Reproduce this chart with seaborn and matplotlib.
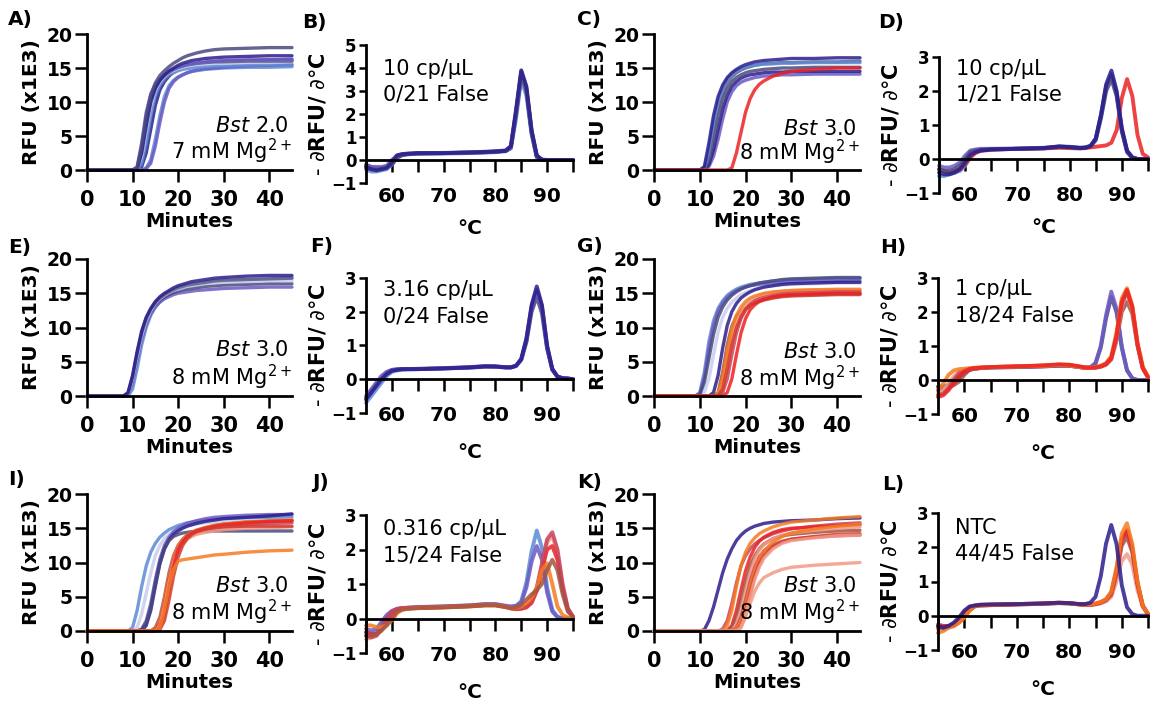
import matplotlib
matplotlib.use("Agg")
import matplotlib.pyplot as plt
import seaborn as sns

# ------------------------------------------------------------------ data
MINUTES = [0, 8, 9, 10, 11, 12, 13, 14, 15, 16, 17, 18, 19, 20, 21, 22, 23, 24, 26, 28, 30, 35, 40, 45]
TEMPS = [55, 56, 57, 58, 59, 60, 61, 62, 63, 65, 70, 75, 78, 80, 82, 83, 84, 85, 86, 87, 88, 89, 90, 91, 92, 93, 94, 95]

RFU_YTICKS = [0, 5, 10, 15, 20]
RFU_XTICKS = [0, 10, 20, 30, 40]
MELT_XTICKS = [60, 70, 80, 90]
MELT_XMINOR = [55, 65, 75, 85, 95]

# Panel A  (Bst 2.0, 7 mM Mg2+)
A_1 = [0, 0, 0, 0, 0.3, 3.5, 8, 11, 12.8, 13.9, 14.6, 15.2, 15.7, 16.1, 16.5, 16.8, 17.0, 17.2, 17.5, 17.7, 17.8, 17.9, 18.0, 18.0]
A_2 = [0, 0, 0, 0, 0.1, 2.5, 6.5, 10, 12, 13.2, 14, 14.6, 15, 15.4, 15.7, 15.9, 16.1, 16.2, 16.4, 16.5, 16.6, 16.7, 16.8, 16.8]
A_3 = [0, 0, 0, 0, 0.5, 4, 8.5, 11.2, 12.6, 13.4, 14, 14.4, 14.8, 15.1, 15.3, 15.5, 15.6, 15.7, 15.9, 16.0, 16.1, 16.2, 16.2, 16.3]
A_4 = [0, 0, 0, 0, 0.2, 3, 7.5, 10.5, 12.2, 13.2, 13.9, 14.4, 14.8, 15.1, 15.3, 15.5, 15.6, 15.7, 15.8, 15.9, 15.9, 16.0, 16.0, 16.0]
A_5 = [0, 0, 0, 0, 0, 0.5, 2.5, 6, 9.5, 11.8, 13, 13.8, 14.4, 14.8, 15.1, 15.3, 15.5, 15.6, 15.8, 15.9, 16, 16.1, 16.2, 16.2]
A_6 = [0, 0, 0, 0, 0, 0, 0.3, 1.5, 4.5, 8, 10.8, 12.4, 13.2, 13.7, 14.0, 14.3, 14.5, 14.6, 14.8, 14.9, 15.0, 15.1, 15.1, 15.2]
A_7 = [0, 0, 0, 0, 0, 0, 0.2, 1, 3.5, 7, 10, 12, 13, 13.6, 14, 14.3, 14.5, 14.7, 14.9, 15, 15.1, 15.3, 15.4, 15.5]
A_8 = [0, 0, 0, 0, 0.1, 2, 6, 9.5, 11.8, 13, 13.8, 14.3, 14.6, 14.9, 15.1, 15.3, 15.4, 15.5, 15.6, 15.7, 15.7, 15.8, 15.8, 15.9]
A_9 = [0, 0, 0, 0, 0, 1, 4, 8, 11, 12.5, 13.4, 14, 14.3, 14.6, 14.8, 14.9, 15, 15.1, 15.2, 15.3, 15.3, 15.4, 15.5, 15.5]

# Panel B  (melt, 10 cp/uL, Bst 2.0)
B_1 = [-0.3, -0.4, -0.45, -0.4, -0.35, -0.1, 0.2, 0.25, 0.27, 0.3, 0.3, 0.33, 0.35, 0.37, 0.4, 0.6, 2.2, 3.9, 3.2, 1.3, 0.2, 0.02, 0, 0, 0, 0, 0, 0]
B_2 = [-0.2, -0.3, -0.35, -0.35, -0.3, -0.2, 0.1, 0.22, 0.25, 0.28, 0.3, 0.32, 0.34, 0.36, 0.4, 0.55, 2.0, 3.7, 3.0, 1.2, 0.15, 0, 0, 0, 0, 0, 0, 0]
B_3 = [-0.4, -0.5, -0.5, -0.45, -0.4, -0.2, 0.1, 0.2, 0.25, 0.27, 0.28, 0.3, 0.32, 0.34, 0.38, 0.5, 1.8, 3.5, 2.8, 1.1, 0.1, 0, 0, 0, 0, 0, 0, 0]
B_4 = [-0.25, -0.3, -0.3, -0.3, -0.25, 0, 0.2, 0.26, 0.28, 0.3, 0.31, 0.33, 0.36, 0.38, 0.42, 0.6, 2.1, 3.85, 3.1, 1.25, 0.18, 0.01, 0, 0, 0, 0, 0, 0]
B_5 = [-0.35, -0.4, -0.4, -0.38, -0.3, -0.15, 0.15, 0.24, 0.26, 0.29, 0.3, 0.32, 0.34, 0.36, 0.4, 0.58, 2.05, 3.8, 3.05, 1.2, 0.15, 0, 0, 0, 0, 0, 0, 0]

# Panel C  (Bst 3.0, 10 cp/uL)
C_1 = [0, 0, 0, 0, 0.5, 4, 8, 10.8, 12.5, 13.6, 14.3, 14.8, 15.2, 15.5, 15.7, 15.9, 16.0, 16.1, 16.2, 16.3, 16.4, 16.4, 16.5, 16.5]
C_2 = [0, 0, 0, 0, 0.3, 3, 7, 10, 12, 13.3, 14.1, 14.6, 14.9, 15.1, 15.3, 15.4, 15.5, 15.6, 15.6, 15.7, 15.7, 15.8, 15.8, 15.8]
C_3 = [0, 0, 0, 0, 0.1, 1.5, 4.5, 8, 10.5, 12, 13, 13.6, 14, 14.3, 14.5, 14.6, 14.7, 14.8, 14.9, 15, 15, 15.1, 15.1, 15.1]
C_4 = [0, 0, 0, 0, 0, 0.8, 3, 6, 9, 11, 12.3, 13, 13.5, 13.8, 14, 14.1, 14.2, 14.3, 14.4, 14.4, 14.5, 14.5, 14.5, 14.5]
C_5 = [0, 0, 0, 0, 0, 0.5, 2, 4.5, 7.5, 10, 11.5, 12.4, 12.9, 13.2, 13.4, 13.6, 13.7, 13.8, 13.9, 14, 14, 14.1, 14.1, 14.1]
C_6 = [0, 0, 0, 0, 0.2, 2, 5.5, 9, 11.3, 12.8, 13.7, 14.3, 14.7, 15, 15.2, 15.4, 15.5, 15.6, 15.7, 15.8, 15.8, 15.9, 15.9, 16]
C_red = [0, 0, 0, 0, 0, 0, 0, 0, 0, 0, 0.3, 2.5, 5.5, 8.5, 10.5, 11.8, 12.6, 13.1, 13.8, 14.2, 14.5, 14.8, 15, 15]

# Panel D  (melt, 10 cp/uL, Bst 3.0)
D_1 = [-0.4, -0.45, -0.45, -0.4, -0.3, -0.1, 0.12, 0.2, 0.25, 0.28, 0.3, 0.32, 0.37, 0.35, 0.32, 0.33, 0.38, 0.6, 1.3, 2.2, 2.6, 2.0, 0.9, 0.25, 0.05, 0, 0, 0]
D_2 = [-0.3, -0.35, -0.35, -0.3, -0.2, 0, 0.2, 0.25, 0.27, 0.29, 0.3, 0.32, 0.36, 0.35, 0.33, 0.34, 0.38, 0.55, 1.2, 2.0, 2.35, 1.85, 0.8, 0.2, 0.03, 0, 0, 0]
D_3 = [-0.5, -0.5, -0.45, -0.4, -0.35, -0.2, 0.05, 0.2, 0.25, 0.28, 0.3, 0.31, 0.35, 0.34, 0.32, 0.33, 0.37, 0.58, 1.25, 2.1, 2.5, 1.95, 0.85, 0.22, 0.04, 0, 0, 0]
D_4 = [-0.2, -0.25, -0.25, -0.2, -0.1, 0.1, 0.25, 0.28, 0.3, 0.3, 0.31, 0.33, 0.37, 0.36, 0.33, 0.34, 0.39, 0.6, 1.3, 2.15, 2.45, 1.9, 0.85, 0.22, 0.04, 0, 0, 0]
D_red = [-0.3, -0.35, -0.4, -0.35, -0.3, -0.15, 0.05, 0.18, 0.24, 0.27, 0.3, 0.31, 0.33, 0.32, 0.31, 0.32, 0.34, 0.36, 0.38, 0.4, 0.48, 0.85, 1.8, 2.35, 1.85, 0.7, 0.15, 0.05]

# Panel E  (Bst 3.0, 3.16 cp/uL)
E_1 = [0, 0, 0.5, 3, 6.5, 9.5, 11.5, 12.8, 13.8, 14.5, 15, 15.4, 15.8, 16.1, 16.3, 16.5, 16.7, 16.8, 17, 17.2, 17.3, 17.5, 17.6, 17.6]
E_2 = [0, 0, 0, 1, 4, 7.5, 10, 11.8, 13, 13.8, 14.4, 14.9, 15.3, 15.6, 15.8, 16, 16.2, 16.3, 16.5, 16.7, 16.8, 17, 17.1, 17.2]
E_3 = [0, 0, 0.3, 2.5, 6, 9, 11.2, 12.5, 13.4, 14, 14.5, 14.8, 15.1, 15.3, 15.5, 15.6, 15.7, 15.8, 16, 16.1, 16.2, 16.3, 16.4, 16.4]
E_4 = [0, 0, 0.2, 2, 5.2, 8.3, 10.5, 12, 13, 13.7, 14.2, 14.5, 14.8, 15, 15.1, 15.2, 15.3, 15.4, 15.5, 15.6, 15.7, 15.8, 15.9, 15.9]
E_5 = [0, 0, 0.4, 2.8, 6.2, 9.2, 11.3, 12.7, 13.6, 14.3, 14.8, 15.2, 15.5, 15.8, 16, 16.2, 16.3, 16.4, 16.6, 16.8, 16.9, 17, 17.1, 17.2]
E_6 = [0, 0, 0.3, 2.5, 5.8, 8.8, 11, 12.5, 13.5, 14.2, 14.7, 15.1, 15.4, 15.6, 15.8, 16, 16.1, 16.2, 16.4, 16.5, 16.6, 16.7, 16.8, 16.8]

# Panel F  (melt, 3.16 cp/uL)
F_1 = [-0.6, -0.4, -0.2, 0, 0.15, 0.25, 0.28, 0.3, 0.3, 0.3, 0.32, 0.35, 0.38, 0.38, 0.35, 0.35, 0.4, 0.6, 1.2, 2.2, 2.75, 2.2, 1.0, 0.3, 0.08, 0.03, 0.02, 0]
F_2 = [-0.55, -0.35, -0.15, 0.05, 0.2, 0.27, 0.29, 0.3, 0.3, 0.31, 0.33, 0.36, 0.39, 0.38, 0.36, 0.36, 0.4, 0.58, 1.1, 2.0, 2.45, 1.95, 0.9, 0.28, 0.07, 0.03, 0.02, 0]
F_3 = [-0.7, -0.5, -0.3, -0.1, 0.1, 0.22, 0.26, 0.28, 0.29, 0.3, 0.32, 0.34, 0.37, 0.37, 0.35, 0.35, 0.39, 0.57, 1.15, 2.1, 2.6, 2.1, 0.95, 0.3, 0.08, 0.03, 0.02, 0]
F_4 = [-0.5, -0.3, -0.1, 0.1, 0.22, 0.28, 0.3, 0.3, 0.3, 0.3, 0.32, 0.35, 0.38, 0.37, 0.35, 0.35, 0.4, 0.6, 1.2, 2.15, 2.65, 2.15, 0.95, 0.3, 0.08, 0.03, 0.02, 0]

# Panel G  (Bst 3.0, 1 cp/uL)
G_1 = [0, 0, 0, 0.5, 3.5, 8, 11, 12.8, 13.9, 14.7, 15.2, 15.6, 15.9, 16.1, 16.3, 16.4, 16.5, 16.6, 16.8, 16.9, 17, 17.1, 17.2, 17.2]
G_2 = [0, 0, 0, 0.3, 2.8, 7, 10.3, 12.4, 13.6, 14.4, 15, 15.4, 15.7, 15.9, 16.1, 16.2, 16.3, 16.4, 16.5, 16.6, 16.7, 16.8, 16.8, 16.9]
G_3 = [0, 0, 0, 0.2, 2, 5.5, 9, 11.5, 13, 14, 14.7, 15.2, 15.6, 15.9, 16.1, 16.3, 16.5, 16.6, 16.8, 17, 17.1, 17.2, 17.3, 17.3]
G_4 = [0, 0, 0, 0, 0.5, 2.5, 6, 9.3, 11.5, 12.8, 13.7, 14.3, 14.8, 15.1, 15.4, 15.6, 15.8, 15.9, 16.1, 16.2, 16.3, 16.4, 16.5, 16.5]
G_5 = [0, 0, 0, 0, 0, 0, 0.5, 3, 7, 10.3, 12.3, 13.5, 14.3, 14.8, 15.2, 15.5, 15.7, 15.9, 16.1, 16.3, 16.4, 16.5, 16.6, 16.6]
G_6 = [0, 0, 0, 0, 0, 0, 0, 0.5, 3.5, 7.5, 10.2, 11.6, 12.4, 12.9, 13.3, 13.6, 13.8, 14, 14.3, 14.5, 14.6, 14.7, 14.8, 14.8]
G_7 = [0, 0, 0, 0, 0, 0, 0, 0.2, 2, 5.5, 8.8, 11, 12.4, 13.3, 13.9, 14.3, 14.6, 14.8, 15.1, 15.3, 15.4, 15.5, 15.6, 15.6]
G_8 = [0, 0, 0, 0, 0, 0, 0, 0, 1, 4, 7.5, 10, 11.6, 12.6, 13.2, 13.6, 13.9, 14.1, 14.4, 14.6, 14.7, 14.8, 14.9, 14.9]
G_9 = [0, 0, 0, 0, 0, 0, 0, 0, 0, 0.5, 2.5, 6, 9.2, 11.3, 12.6, 13.3, 13.8, 14.1, 14.5, 14.7, 14.8, 14.9, 15, 15]
G_10 = [0, 0, 0, 0, 0, 0, 0, 0, 0.5, 2.5, 6, 9.2, 11.3, 12.6, 13.4, 13.9, 14.2, 14.4, 14.7, 14.9, 15, 15.1, 15.2, 15.2]
G_11 = [0, 0, 0, 0, 0, 0, 0, 0.3, 2.5, 6.5, 9.8, 11.8, 13, 13.8, 14.3, 14.6, 14.8, 15, 15.2, 15.3, 15.4, 15.5, 15.5, 15.5]

# Panel H  (melt, 1 cp/uL)
H_1 = [-0.3, -0.25, -0.2, -0.1, 0.05, 0.2, 0.3, 0.33, 0.35, 0.37, 0.38, 0.4, 0.42, 0.42, 0.38, 0.36, 0.37, 0.5, 1.0, 1.9, 2.6, 2.1, 1.0, 0.3, 0.05, 0, 0, 0]
H_2 = [-0.2, -0.2, -0.15, 0, 0.15, 0.25, 0.3, 0.33, 0.35, 0.37, 0.38, 0.4, 0.42, 0.42, 0.38, 0.36, 0.37, 0.48, 0.95, 1.8, 2.45, 2.0, 0.95, 0.28, 0.05, 0, 0, 0]
H_3 = [-0.3, -0.1, 0.15, 0.28, 0.32, 0.33, 0.35, 0.36, 0.37, 0.38, 0.4, 0.42, 0.44, 0.43, 0.38, 0.36, 0.36, 0.38, 0.42, 0.5, 0.7, 1.4, 2.4, 2.7, 2.2, 1.1, 0.4, 0.1]
H_4 = [-0.5, -0.45, -0.3, -0.1, 0.1, 0.25, 0.32, 0.35, 0.36, 0.38, 0.4, 0.43, 0.46, 0.45, 0.4, 0.37, 0.36, 0.37, 0.4, 0.47, 0.65, 1.3, 2.3, 2.65, 2.15, 1.05, 0.35, 0.08]
H_5 = [-0.2, -0.2, -0.2, -0.15, -0.05, 0.15, 0.3, 0.34, 0.35, 0.37, 0.39, 0.41, 0.43, 0.42, 0.38, 0.35, 0.35, 0.36, 0.39, 0.45, 0.6, 1.15, 2.0, 2.3, 1.95, 1.0, 0.35, 0.08]
H_6 = [-0.4, -0.3, -0.1, 0.1, 0.25, 0.3, 0.33, 0.35, 0.36, 0.38, 0.4, 0.42, 0.45, 0.44, 0.39, 0.36, 0.36, 0.37, 0.4, 0.46, 0.62, 1.25, 2.2, 2.55, 2.1, 1.05, 0.35, 0.08]
H_7 = [-0.45, -0.4, -0.25, 0, 0.2, 0.28, 0.32, 0.35, 0.36, 0.38, 0.4, 0.42, 0.45, 0.44, 0.39, 0.36, 0.36, 0.37, 0.4, 0.46, 0.63, 1.3, 2.25, 2.6, 2.15, 1.05, 0.35, 0.08]

# Panel I  (Bst 3.0, 0.316 cp/uL)
I_1 = [0, 0, 0, 0.5, 3, 6.5, 9.5, 11.5, 12.8, 13.7, 14.3, 14.8, 15.1, 15.4, 15.6, 15.8, 15.9, 16, 16.2, 16.3, 16.4, 16.5, 16.6, 16.6]
I_2 = [0, 0, 0, 0, 0.5, 2.5, 5.5, 8.5, 11, 12.5, 13.5, 14.1, 14.6, 14.9, 15.2, 15.4, 15.5, 15.6, 15.8, 15.9, 16, 16.1, 16.1, 16.2]
I_3 = [0, 0, 0, 0, 0, 0.3, 1.5, 4, 7.5, 10.5, 12.5, 13.7, 14.5, 15, 15.4, 15.7, 15.9, 16.1, 16.4, 16.6, 16.7, 16.9, 17, 17]
I_4 = [0, 0, 0, 0, 0, 0, 0.8, 3, 6.5, 9.8, 12, 13.3, 14.1, 14.6, 15, 15.3, 15.5, 15.7, 16, 16.2, 16.4, 16.6, 16.8, 17.1]
I_5 = [0, 0, 0, 0, 0, 0.2, 1.2, 3.5, 7, 10, 12, 13.2, 13.8, 14.1, 14.3, 14.4, 14.5, 14.5, 14.6, 14.6, 14.6, 14.6, 14.6, 14.6]
I_6 = [0, 0, 0, 0, 0, 0, 0, 0, 0.5, 2, 5, 8.5, 11, 12.5, 13.4, 14, 14.4, 14.7, 15.1, 15.4, 15.6, 15.9, 16, 16.1]
I_7 = [0, 0, 0, 0, 0, 0, 0, 0, 0, 0.5, 2.5, 6, 9.5, 11.8, 13, 13.8, 14.3, 14.6, 15, 15.3, 15.5, 15.8, 16, 16.1]
I_8 = [0, 0, 0, 0, 0, 0, 0, 0, 0.2, 1.2, 4, 7.5, 10.3, 12, 13, 13.6, 14, 14.3, 14.7, 15, 15.2, 15.5, 15.7, 15.8]
I_9 = [0, 0, 0, 0, 0, 0, 0, 0, 0, 0.8, 3.5, 7, 10, 11.8, 12.8, 13.4, 13.8, 14.1, 14.4, 14.6, 14.8, 15, 15.1, 15.2]
I_10 = [0, 0, 0, 0, 0, 0, 0, 0, 0, 0.5, 3, 6.5, 9, 10.2, 10.4, 10.5, 10.6, 10.7, 10.9, 11.1, 11.2, 11.5, 11.7, 11.8]
I_11 = [0, 0, 0, 0, 0, 0, 0, 0, 0.3, 1.5, 4.5, 8, 10.8, 12.4, 13.4, 14, 14.4, 14.7, 15.1, 15.4, 15.6, 15.9, 16.1, 16.2]
I_12 = [0, 0, 0, 0, 0, 0, 0, 0, 0, 0.2, 1.5, 4.5, 8, 10.8, 12.5, 13.5, 14.1, 14.5, 14.9, 15.1, 15.2, 15.3, 15.3, 15.3]

# Panel J  (melt, 0.316 cp/uL)
J_1 = [-0.4, -0.45, -0.4, -0.2, 0.05, 0.2, 0.27, 0.3, 0.31, 0.33, 0.35, 0.38, 0.42, 0.42, 0.37, 0.35, 0.37, 0.5, 1.05, 1.95, 2.55, 2.05, 0.9, 0.25, 0.05, 0, 0, 0]
J_2 = [-0.3, -0.35, -0.3, -0.1, 0.1, 0.22, 0.28, 0.3, 0.31, 0.33, 0.35, 0.38, 0.41, 0.41, 0.36, 0.34, 0.36, 0.46, 0.9, 1.65, 2.1, 1.7, 0.75, 0.2, 0.04, 0, 0, 0]
J_3 = [-0.5, -0.55, -0.5, -0.3, 0, 0.2, 0.28, 0.3, 0.31, 0.32, 0.34, 0.37, 0.4, 0.4, 0.35, 0.3, 0.28, 0.3, 0.35, 0.5, 0.9, 1.6, 2.3, 2.5, 2.0, 1.0, 0.3, 0.05]
J_4 = [-0.4, -0.45, -0.45, -0.3, -0.05, 0.15, 0.26, 0.29, 0.3, 0.31, 0.33, 0.36, 0.39, 0.39, 0.34, 0.29, 0.27, 0.28, 0.32, 0.45, 0.8, 1.4, 2.0, 2.1, 1.7, 0.85, 0.25, 0.05]
J_5 = [-0.5, -0.5, -0.45, -0.35, -0.2, 0, 0.2, 0.26, 0.28, 0.3, 0.32, 0.35, 0.38, 0.38, 0.33, 0.3, 0.32, 0.4, 0.55, 0.7, 0.82, 1.0, 1.4, 1.7, 1.4, 0.7, 0.2, 0.05]
J_6 = [-0.2, -0.2, -0.25, -0.25, -0.2, -0.05, 0.15, 0.25, 0.28, 0.3, 0.32, 0.35, 0.38, 0.38, 0.33, 0.3, 0.3, 0.35, 0.45, 0.6, 0.9, 1.4, 1.6, 1.0, 0.35, 0.1, 0.03, 0]
J_7 = [-0.6, -0.55, -0.5, -0.35, -0.1, 0.1, 0.25, 0.29, 0.3, 0.31, 0.33, 0.36, 0.39, 0.39, 0.34, 0.3, 0.28, 0.3, 0.35, 0.5, 0.85, 1.5, 2.2, 2.4, 1.9, 0.9, 0.28, 0.05]

# Panel K  (Bst 3.0, NTC)
K_1 = [0, 0, 0, 0, 0.2, 1.5, 3.5, 6, 8.5, 10.5, 12, 13.2, 14, 14.6, 15, 15.3, 15.5, 15.7, 15.9, 16, 16.1, 16.2, 16.4, 16.5]
K_2 = [0, 0, 0, 0, 0, 0, 0, 0, 0.3, 1.5, 4, 7, 9.5, 11, 12, 12.7, 13.2, 13.6, 14.2, 14.6, 14.9, 15.3, 15.6, 15.8]
K_3 = [0, 0, 0, 0, 0, 0, 0, 0, 0, 0.8, 3, 6.5, 9.5, 11.5, 12.8, 13.6, 14.2, 14.6, 15.2, 15.6, 15.9, 16.2, 16.5, 16.7]
K_4 = [0, 0, 0, 0, 0, 0, 0, 0, 0, 0, 0.8, 3, 6, 8.8, 10.8, 12.2, 13.1, 13.7, 14.4, 14.8, 15, 15.2, 15.4, 15.5]
K_5 = [0, 0, 0, 0, 0, 0, 0, 0, 0, 0, 0.5, 2, 4.5, 7.2, 9.5, 11, 12, 12.7, 13.5, 13.9, 14.1, 14.4, 14.6, 14.7]
K_6 = [0, 0, 0, 0, 0, 0, 0, 0, 0, 0, 0, 1, 3, 5.8, 8.5, 10.5, 11.8, 12.6, 13.5, 14, 14.3, 14.7, 15, 15.2]
K_7 = [0, 0, 0, 0, 0, 0, 0, 0, 0, 0, 0, 0.5, 2, 4.5, 7.2, 9.3, 10.8, 11.7, 12.6, 13.1, 13.4, 13.7, 13.9, 14]
K_8 = [0, 0, 0, 0, 0, 0, 0, 0, 0, 0, 0, 0.3, 1.5, 3.8, 6.5, 8.8, 10.5, 11.7, 13, 13.8, 14.3, 14.9, 15.3, 15.6]
K_9 = [0, 0, 0, 0, 0, 0, 0, 0, 0, 0, 0, 0, 0.8, 2.8, 5.5, 8, 9.8, 11, 12.3, 13, 13.4, 13.8, 14.1, 14.2]
K_10 = [0, 0, 0, 0, 0, 0, 0, 0, 0, 0, 0, 0, 0.5, 2, 4, 5.8, 7, 7.8, 8.5, 9, 9.3, 9.6, 9.8, 10]
K_11 = [0, 0, 0, 0, 0, 0, 0, 0, 0, 0, 0, 0, 0.5, 2.5, 5, 7.5, 9.3, 10.6, 12, 12.8, 13.2, 13.6, 13.9, 14]

# Panel L  (melt, NTC)
L_1 = [-0.3, -0.35, -0.3, -0.2, -0.05, 0.15, 0.27, 0.3, 0.32, 0.33, 0.34, 0.36, 0.38, 0.37, 0.34, 0.34, 0.38, 0.55, 1.15, 2.1, 2.65, 2.1, 0.9, 0.25, 0.05, 0, 0, 0]
L_2 = [-0.5, -0.45, -0.35, -0.3, -0.2, -0.05, 0.15, 0.28, 0.3, 0.32, 0.34, 0.36, 0.38, 0.37, 0.33, 0.32, 0.33, 0.36, 0.4, 0.48, 0.7, 1.4, 2.4, 2.7, 2.1, 1.0, 0.3, 0.05]
L_3 = [-0.3, -0.3, -0.3, -0.25, -0.1, 0.1, 0.25, 0.3, 0.32, 0.33, 0.34, 0.36, 0.38, 0.37, 0.34, 0.33, 0.33, 0.35, 0.4, 0.48, 0.68, 1.35, 2.25, 2.5, 2.0, 0.95, 0.3, 0.05]
L_4 = [-0.35, -0.35, -0.3, -0.3, -0.2, -0.05, 0.15, 0.27, 0.3, 0.31, 0.33, 0.35, 0.37, 0.36, 0.33, 0.32, 0.32, 0.34, 0.38, 0.45, 0.62, 1.2, 2.05, 2.3, 1.85, 0.9, 0.28, 0.05]
L_5 = [-0.4, -0.4, -0.35, -0.3, -0.15, 0, 0.2, 0.28, 0.3, 0.31, 0.33, 0.35, 0.37, 0.36, 0.33, 0.31, 0.31, 0.33, 0.36, 0.42, 0.55, 1.0, 1.6, 1.8, 1.5, 0.75, 0.25, 0.05]
L_6 = [-0.25, -0.3, -0.3, -0.25, -0.15, 0.05, 0.22, 0.28, 0.3, 0.31, 0.33, 0.35, 0.37, 0.36, 0.33, 0.32, 0.32, 0.34, 0.38, 0.46, 0.65, 1.3, 2.2, 2.45, 1.95, 0.95, 0.3, 0.05]

# text
RFU_NOTES = {
    "A": (r"$\it{Bst}$ 2.0", r"7 mM Mg$^{2+}$"),
    "C": (r"$\it{Bst}$ 3.0", r"8 mM Mg$^{2+}$"),
    "E": (r"$\it{Bst}$ 3.0", r"8 mM Mg$^{2+}$"),
    "G": (r"$\it{Bst}$ 3.0", r"8 mM Mg$^{2+}$"),
    "I": (r"$\it{Bst}$ 3.0", r"8 mM Mg$^{2+}$"),
    "K": (r"$\it{Bst}$ 3.0", r"8 mM Mg$^{2+}$"),
}
MELT_NOTES = {
    "B": ("10 cp/µL", "0/21 False"),
    "D": ("10 cp/µL", "1/21 False"),
    "F": ("3.16 cp/µL", "0/24 False"),
    "H": ("1 cp/µL", "18/24 False"),
    "J": ("0.316 cp/µL", "15/24 False"),
    "L": ("NTC", "44/45 False"),
}

# ------------------------------------------------------------------ style
NAVY = "#2a1d8c"
SLATE = "#4a4a7e"
PURPLE = "#6b5bc4"
STEEL = "#5c8bd6"
LIGHT = "#c9cdee"
GREYB = "#5d5f86"
RED = "#ec2224"
ORANGE = "#f47b20"
BROWN = "#a35443"
SALMON = "#f39a86"
ROSE = "#c9445c"
DRED = "#d43a2f"

CURVES = {
    "A": [(A_5, NAVY), (A_6, STEEL), (A_7, PURPLE), (A_9, STEEL), (A_8, LIGHT), (A_4, GREYB), (A_3, PURPLE), (A_2, NAVY), (A_1, SLATE)],
    "C": [(C_5, PURPLE), (C_4, NAVY), (C_3, SLATE), (C_6, GREYB), (C_2, STEEL), (C_1, NAVY), (C_red, RED)],
    "E": [(E_2, STEEL), (E_4, PURPLE), (E_3, SLATE), (E_6, LIGHT), (E_5, GREYB), (E_1, NAVY)],
    "G": [(G_4, LIGHT), (G_1, STEEL), (G_2, PURPLE), (G_3, SLATE), (G_5, NAVY),
          (G_6, BROWN), (G_7, SALMON), (G_11, ORANGE), (G_10, ROSE), (G_8, DRED), (G_9, RED)],
    "I": [(I_1, STEEL), (I_2, LIGHT), (I_3, PURPLE), (I_4, NAVY), (I_5, SLATE),
          (I_6, BROWN), (I_11, ORANGE), (I_8, ROSE), (I_9, SALMON), (I_7, RED), (I_12, DRED), (I_10, ORANGE)],
    "K": [(K_1, NAVY), (K_2, ROSE), (K_3, ORANGE), (K_4, RED), (K_5, BROWN), (K_6, SALMON),
          (K_7, ROSE), (K_8, ORANGE), (K_9, DRED), (K_11, SALMON), (K_10, SALMON)],
    "B": [(B_3, STEEL), (B_2, SLATE), (B_4, PURPLE), (B_5, GREYB), (B_1, NAVY)],
    "D": [(D_3, STEEL), (D_red, RED), (D_4, PURPLE), (D_2, SLATE), (D_1, NAVY)],
    "F": [(F_3, STEEL), (F_2, SLATE), (F_4, PURPLE), (F_1, NAVY)],
    "H": [(H_2, SLATE), (H_1, PURPLE), (H_5, BROWN), (H_6, SALMON), (H_7, ROSE), (H_3, ORANGE), (H_4, RED)],
    "J": [(J_1, STEEL), (J_2, PURPLE), (J_7, SALMON), (J_4, RED), (J_3, ROSE), (J_6, ORANGE), (J_5, BROWN)],
    "L": [(L_5, SALMON), (L_4, BROWN), (L_6, ROSE), (L_3, RED), (L_2, ORANGE), (L_1, NAVY)],
}

W, H = 1151, 703
# axes rectangles in pixels: left, top, right, bottom
RECTS = {
    "A": (87, 34, 292, 170), "B": (366, 45, 573, 183), "C": (654, 34, 860, 170), "D": (939, 57, 1148, 193),
    "E": (87, 259, 292, 396), "F": (366, 278, 573, 413), "G": (654, 259, 860, 396), "H": (938, 278, 1148, 414),
    "I": (87, 494, 292, 631), "J": (366, 515, 573, 653), "K": (654, 494, 860, 631), "L": (938, 513, 1148, 650),
}
LETTER_POS = {
    "A": (8, 10), "B": (302, 13), "C": (577, 10), "D": (878, 13),
    "E": (8, 238), "F": (310, 237), "G": (577, 237), "H": (880, 238),
    "I": (8, 470), "J": (312, 473), "K": (577, 473), "L": (882, 475),
}
MELT_TEXT_Y = {"B": (0.78, 0.60), "D": (0.87, 0.68), "F": (0.87, 0.67),
               "H": (0.875, 0.68), "J": (0.855, 0.66), "L": (0.85, 0.66)}
RFU_TEXT_Y = {"A": (0.28, 0.08), "C": (0.26, 0.075), "E": (0.29, 0.08),
              "G": (0.28, 0.075), "I": (0.285, 0.08), "K": (0.285, 0.08)}

sns.set_theme(style="ticks")
plt.rcParams["font.family"] = ["DejaVu Sans"]
plt.rcParams["mathtext.fontset"] = "dejavusans"
plt.rcParams["axes.linewidth"] = 2.0
for k in ("text.color", "axes.labelcolor", "xtick.color", "ytick.color", "axes.edgecolor"):
    plt.rcParams[k] = "black"

fig = plt.figure(figsize=(W / 100, H / 100), dpi=100)
fig.patch.set_facecolor("white")


def make_ax(key):
    l, t, r, b = RECTS[key]
    ax = fig.add_axes([l / W, 1 - b / H, (r - l) / W, (b - t) / H])
    ax.set_facecolor("none")
    for s in ("top", "right"):
        ax.spines[s].set_visible(False)
    for s in ("left", "bottom"):
        ax.spines[s].set_color("black")
        ax.spines[s].set_linewidth(2.0)
    return ax


for key in "ACEGIK":
    ax = make_ax(key)
    for vals, col in CURVES[key]:
        sns.lineplot(x=MINUTES, y=vals, ax=ax, color=col, lw=2.4, alpha=0.85,
                     clip_on=False, estimator=None, sort=False, legend=False)
    ax.set_xlim(0, 45)
    ax.set_ylim(0, 20)
    ax.set_xticks(RFU_XTICKS)
    ax.set_yticks(RFU_YTICKS)
    ax.tick_params(axis="x", direction="out", length=8.5, width=1.8, pad=6,
                   labelsize=15, colors="black")
    ax.tick_params(axis="y", direction="out", length=8.5, width=1.8, pad=2,
                   labelsize=13.5, colors="black")
    for lab in ax.get_xticklabels() + ax.get_yticklabels():
        lab.set_fontweight("bold")
    ax.set_xlabel("Minutes", fontsize=14, fontweight="bold", labelpad=1, color="black")
    ax.set_ylabel("RFU (x1E3)", fontsize=14.5, fontweight="bold", labelpad=4, color="black")
    t1, t2 = RFU_NOTES[key]
    y1, y2 = RFU_TEXT_Y[key]
    ax.text(0.985, y1, t1, transform=ax.transAxes, ha="right", va="baseline", fontsize=15, color="black")
    ax.text(1.0, y2, t2, transform=ax.transAxes, ha="right", va="baseline", fontsize=15, color="black")

for key in "BDFHJL":
    ax = make_ax(key)
    for vals, col in CURVES[key]:
        sns.lineplot(x=TEMPS, y=vals, ax=ax, color=col, lw=2.8, alpha=0.85,
                     clip_on=False, estimator=None, sort=False, legend=False)
    ax.set_xlim(55, 95)
    top = 5 if key == "B" else 3
    ax.set_ylim(-1, top)
    ax.set_yticks(list(range(-1, top + 1)))
    ax.set_xticks(MELT_XTICKS)
    ax.set_xticks(MELT_XMINOR, minor=True)
    ax.spines["bottom"].set_position(("data", 0))
    ax.tick_params(axis="x", which="both", direction="out", length=8.5, width=1.8,
                   pad=11, labelsize=14.5, colors="black")
    ax.tick_params(axis="y", direction="out", length=5, width=1.8, pad=2,
                   labelsize=12, colors="black")
    for lab in ax.get_xticklabels() + ax.get_yticklabels():
        lab.set_fontweight("bold")
    ax.set_xlabel("°C", fontsize=14.5, fontweight="bold",
                  labelpad=9 if key in "BD" else 13, color="black")
    ax.set_ylabel(r"- $\partial\mathbf{RFU/}\ \partial$°$\mathbf{C}$", fontsize=15,
                  labelpad=2, color="black")
    t1, t2 = MELT_NOTES[key]
    y1, y2 = MELT_TEXT_Y[key]
    ax.text(0.08, y1, t1, transform=ax.transAxes, ha="left", va="baseline", fontsize=15, color="black")
    ax.text(0.08, y2, t2, transform=ax.transAxes, ha="left", va="baseline", fontsize=15, color="black")

for key, (px, py) in LETTER_POS.items():
    fig.text(px / W, 1 - py / H, key + ")", ha="left", va="top", fontsize=14.5,
             fontweight="bold", color="black")

fig.savefig("out.png", dpi=100, facecolor="white")
